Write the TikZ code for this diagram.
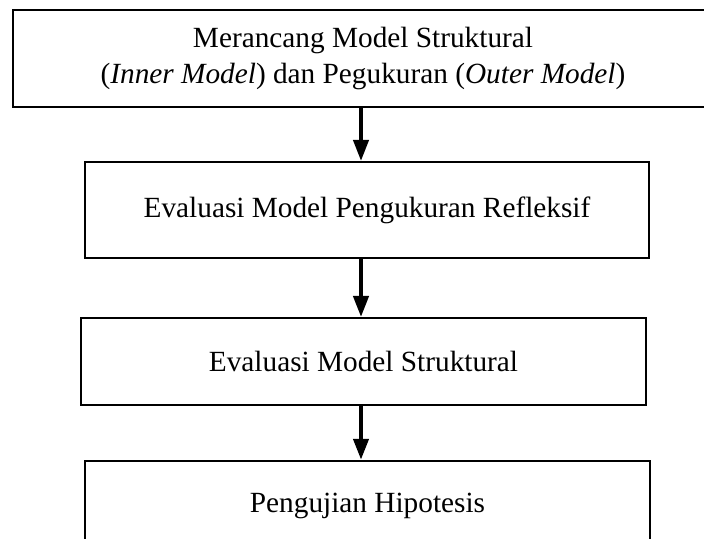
\documentclass[tikz,border=0pt]{standalone}
\usepackage{fontspec}
\setmainfont{Liberation Serif}
\usetikzlibrary{arrows.meta}
\usetikzlibrary{positioning}
\tikzset{stage/.style = {draw, line width = 1.1pt, align = center, inner sep = 0, font = \fontsize{12}{14.8}\selectfont}}
\tikzset{flow/.style = {line width = 1.3pt, -{Triangle[length = 8.5pt, width = 6.3pt]}}}

\begin{document}
\begin{tikzpicture}[x = 0.4096pt, y = -0.4096pt]

       \useasboundingbox (0, 0) rectangle (704, 538);
       \clip (0, 0) rectangle (704, 538);
       \coordinate (axis) at (361, 0);

       \node [stage, minimum width = 286.7pt, minimum height = 39.7pt] (rancang) at (363, 58.5)
         {Merancang Model Struktural\\(\textit{Inner Model}) dan Pegukuran (\textit{Outer Model})};
       \node [stage, minimum width = 231pt, minimum height = 39.3pt] (reflektif) at (367, 210)
         {Evaluasi Model Pengukuran Refleksif};
       \node [stage, minimum width = 231.4pt, minimum height = 35.6pt] (struktural) at (363.5, 361.5)
         {Evaluasi Model Struktural};
       \node [stage, minimum width = 231.4pt, minimum height = 37pt] (hipotesis) at (367.5, 506)
         {Pengujian Hipotesis};

       \draw [flow] (rancang.south -| axis) -- (reflektif.north -| axis);
       \draw [flow] (reflektif.south -| axis) -- (struktural.north -| axis);
       \draw [flow] (struktural.south -| axis) -- (hipotesis.north -| axis);
    \end{tikzpicture}
\end{document}
